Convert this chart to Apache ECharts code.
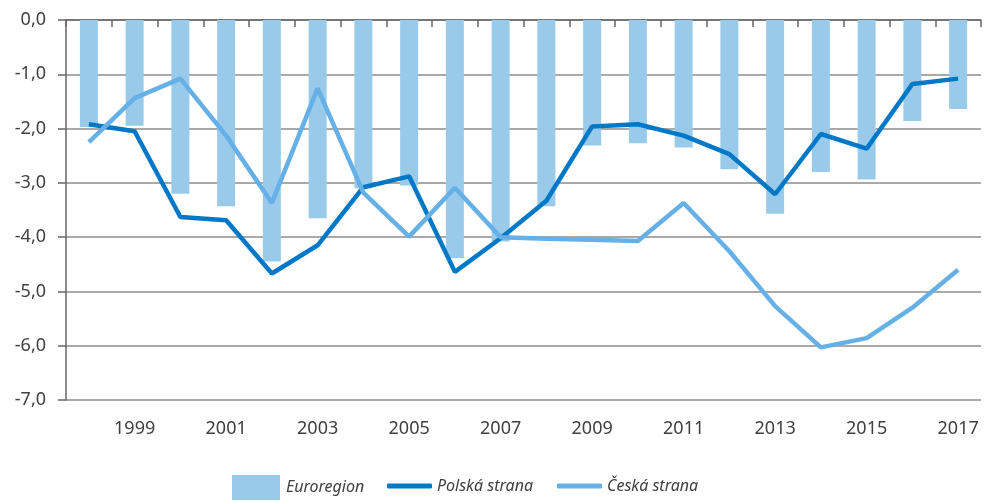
<!DOCTYPE html>
<html>
<head>
<meta charset="utf-8">
<script src="https://cdn.jsdelivr.net/npm/echarts@6/dist/echarts.min.js"></script>
<style>
html,body{margin:0;padding:0;background:#fff;}
#chart{width:984px;height:501px;}
</style>
</head>
<body>
<div id="chart"></div>
<script>
const years = ['1998','1999','2000','2001','2002','2003','2004','2005','2006','2007','2008','2009','2010','2011','2012','2013','2014','2015','2016','2017'];
const euroregion = [-1.97,-1.95,-3.20,-3.43,-4.45,-3.65,-3.10,-3.05,-4.39,-4.08,-3.43,-2.31,-2.27,-2.35,-2.75,-3.57,-2.80,-2.94,-1.86,-1.64];
const polska = [-1.92,-2.05,-3.63,-3.69,-4.67,-4.15,-3.08,-2.88,-4.64,-4.02,-3.33,-1.96,-1.92,-2.13,-2.47,-3.21,-2.10,-2.37,-1.18,-1.08];
const ceska = [-2.25,-1.44,-1.08,-2.13,-3.37,-1.26,-3.18,-3.99,-3.09,-4.00,-4.03,-4.05,-4.07,-3.37,-4.26,-5.27,-6.03,-5.86,-5.30,-4.60];
const seriesNames = ['Euroregion','Polská strana','Česká strana'];

const FONT = '"Noto Sans", sans-serif';
const TXT = '#404040';
const chart = echarts.init(document.getElementById('chart'), null, {renderer:'canvas'});
chart.setOption({
  animation:false,
  backgroundColor:'#ffffff',
  textStyle:{fontFamily:FONT},
  grid:{left:66,right:3,top:20,bottom:101,containLabel:false},
  legend:[
    {data:[seriesNames[0]],left:232,top:475,itemWidth:48,itemHeight:25,icon:'rect',
     textStyle:{fontFamily:FONT,fontSize:16,fontStyle:'italic',color:TXT,padding:[0,0,0,1]},padding:0},
    {data:[seriesNames[1],seriesNames[2]],left:387,top:478,itemWidth:45,itemHeight:5,itemGap:24,icon:'roundRect',
     textStyle:{fontFamily:FONT,fontSize:16,fontStyle:'italic',color:TXT,padding:[0,0,0,0]},padding:0}
  ],
  xAxis:[
    {type:'category',data:years,position:'top',boundaryGap:true,
     axisLine:{show:true,onZero:false,lineStyle:{color:'#666666',width:1.5}},
     axisTick:{show:true,inside:true,length:7,alignWithLabel:false,lineStyle:{color:'#666666',width:1.5}},
     axisLabel:{show:false},splitLine:{show:false}},
    {type:'category',data:years,position:'bottom',boundaryGap:true,
     axisLine:{show:false,onZero:false},axisTick:{show:false},
     axisLabel:{show:true,margin:20,fontFamily:FONT,fontSize:18,color:TXT,
       interval:function(i){return i%2===1;}},
     splitLine:{show:false}}
  ],
  yAxis:{type:'value',min:-7,max:0,interval:1,
    axisLine:{show:true,lineStyle:{color:'#666666',width:1.5}},
    axisTick:{show:true,length:8,lineStyle:{color:'#666666',width:1.5}},
    axisLabel:{margin:20,fontFamily:FONT,fontSize:18,color:TXT,
      formatter:function(v){return v.toFixed(1).replace('.',',');}},
    splitLine:{show:true,lineStyle:{color:'#8c8c8c',width:1.5}}},
  series:[
    {name:seriesNames[0],type:'bar',xAxisIndex:0,data:euroregion,barWidth:18,
     itemStyle:{color:'#9acaea'}},
    {name:seriesNames[1],type:'line',xAxisIndex:0,data:polska,symbol:'none',
     lineStyle:{color:'#0078c8',width:4.5},itemStyle:{color:'#0078c8'}},
    {name:seriesNames[2],type:'line',xAxisIndex:0,data:ceska,symbol:'none',
     lineStyle:{color:'#66b0e8',width:4.5},itemStyle:{color:'#66b0e8'}}
  ]
});
</script>
</body>
</html>
